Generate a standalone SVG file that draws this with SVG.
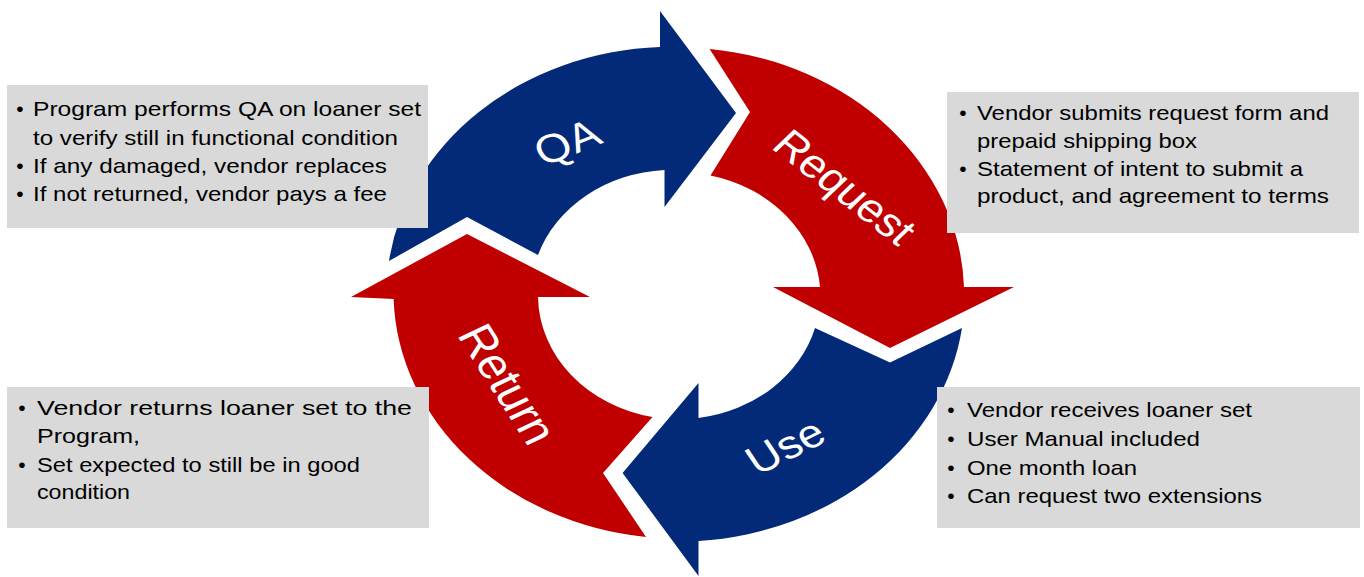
<svg xmlns="http://www.w3.org/2000/svg" width="1364" height="577" viewBox="0 0 1364 577">
<style>
.blue{fill:#022A78}
.red{fill:#C00000}
.box{fill:#D9D9D9}
.lbl{font-family:"Liberation Sans",Arial,sans-serif;font-size:40px;fill:#FFFFFF;text-anchor:middle}
.t{font-family:"Liberation Sans",Arial,sans-serif;font-size:21px;fill:#000000}
.b{font-family:"Liberation Sans",Arial,sans-serif;font-size:21px;fill:#000000;text-anchor:middle}
</style>
<rect width="1364" height="577" fill="#FFFFFF"/>
<g id="arrow-qa">
<path class="blue" d="M389,261 A286,247 0 0 1 660,47 L660,11 L736,113 L664.5,207 L664.5,170 A142,124 0 0 0 538,255 L467,217 Z"/>
<text class="lbl" transform="translate(567,142) scale(1.16,1) rotate(-25)" x="0" y="14">QA</text>
</g>
<g id="arrow-request">
<path class="red" d="M709.6,49 A286,247 0 0 1 964,287 L1014,287 L890,348 L773,287 L820,287 A142,124 0 0 0 710.5,175.6 L750,112 Z"/>
<text class="lbl" transform="translate(845,187) scale(1.16,1) rotate(42)" x="0" y="14">Request</text>
</g>
<g id="arrow-use">
<path class="blue" d="M962,328 A286,247 0 0 1 698.5,541 L698.5,576 L622.6,473 L698.5,383 L698.5,418 A142,124 0 0 0 815,328 L890,362.5 Z"/>
<text class="lbl" transform="translate(785,446) scale(1.16,1) rotate(-30)" x="0" y="14">Use</text>
</g>
<g id="arrow-return">
<path class="red" d="M646,537 A286,247 0 0 1 393.6,299 L351,297 L467,234 L590,297 L538,297 A142,124 0 0 0 652.5,417 L603,473 Z"/>
<text class="lbl" style="font-size:43px" transform="translate(508,384) scale(1.16,1) rotate(61)" x="0" y="15">Return</text>
</g>
<g id="connectors"></g>
<g id="box-qa">
<rect class="box" x="7" y="85" width="421" height="143"/>
<text class="b" x="20" y="116">•</text>
<text class="t" x="33" y="116" textLength="388" lengthAdjust="spacingAndGlyphs">Program performs QA on loaner set</text>
<text class="t" x="33" y="145" textLength="365" lengthAdjust="spacingAndGlyphs">to verify still in functional condition</text>
<text class="b" x="20" y="173">•</text>
<text class="t" x="33" y="173" textLength="354" lengthAdjust="spacingAndGlyphs">If any damaged, vendor replaces</text>
<text class="b" x="20" y="201">•</text>
<text class="t" x="33" y="201" textLength="354" lengthAdjust="spacingAndGlyphs">If not returned, vendor pays a fee</text>
</g>
<g id="box-request">
<rect class="box" x="947" y="92" width="412" height="141"/>
<text class="b" x="963" y="120">•</text>
<text class="t" x="977" y="120" textLength="352" lengthAdjust="spacingAndGlyphs">Vendor submits request form and</text>
<text class="t" x="977" y="148" textLength="220" lengthAdjust="spacingAndGlyphs">prepaid shipping box</text>
<text class="b" x="963" y="176">•</text>
<text class="t" x="977" y="176" textLength="326" lengthAdjust="spacingAndGlyphs">Statement of intent to submit a</text>
<text class="t" x="977" y="203" textLength="352" lengthAdjust="spacingAndGlyphs">product, and agreement to terms</text>
</g>
<g id="box-return">
<rect class="box" x="7" y="387" width="422" height="141"/>
<text class="b" x="22" y="415">•</text>
<text class="t" x="37" y="415" textLength="375" lengthAdjust="spacingAndGlyphs">Vendor returns loaner set to the</text>
<text class="t" x="37" y="443" textLength="103" lengthAdjust="spacingAndGlyphs">Program,</text>
<text class="b" x="22" y="472">•</text>
<text class="t" x="37" y="472" textLength="323" lengthAdjust="spacingAndGlyphs">Set expected to still be in good</text>
<text class="t" x="37" y="499" textLength="93" lengthAdjust="spacingAndGlyphs">condition</text>
</g>
<g id="box-use">
<rect class="box" x="937" y="387" width="423" height="141"/>
<text class="b" x="951" y="417">•</text>
<text class="t" x="967" y="417" textLength="285" lengthAdjust="spacingAndGlyphs">Vendor receives loaner set</text>
<text class="b" x="951" y="446">•</text>
<text class="t" x="967" y="446" textLength="233" lengthAdjust="spacingAndGlyphs">User Manual included</text>
<text class="b" x="951" y="475">•</text>
<text class="t" x="967" y="475" textLength="170" lengthAdjust="spacingAndGlyphs">One month loan</text>
<text class="b" x="951" y="503">•</text>
<text class="t" x="967" y="503" textLength="295" lengthAdjust="spacingAndGlyphs">Can request two extensions</text>
</g>
</svg>
